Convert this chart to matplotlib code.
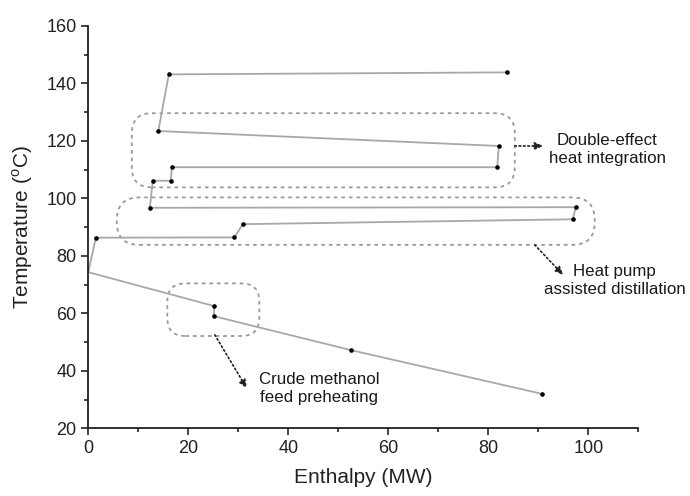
import numpy as np
import matplotlib
matplotlib.use('Agg')
import matplotlib.pyplot as plt
from matplotlib.patches import FancyBboxPatch
from matplotlib.ticker import MultipleLocator

plt.rcParams['font.family'] = ['Liberation Sans', 'DejaVu Sans']
plt.rcParams['mathtext.fontset'] = 'custom'
plt.rcParams['mathtext.rm'] = 'Liberation Sans'

# composite curve (enthalpy MW, temperature C)
enthalpy = [90.7, 52.5, 25.1, 25.2, 0.0, 1.5, 29.2, 30.9, 96.9, 97.5, 12.3,
            12.9, 16.5, 16.7, 81.8, 82.1, 14.0, 16.1, 83.8]
temperature = [32.0, 47.2, 59.0, 62.5, 74.3, 86.3, 86.4, 91.0, 92.7, 96.9, 96.7,
               106.1, 106.1, 110.8, 110.8, 118.2, 123.4, 143.1, 143.8]
has_marker = [True] * len(enthalpy)
has_marker[4] = False

# highlighted regions: (x0, x1, y0, y1, radius)
boxes = [(8.7, 85.3, 103.8, 129.6, 4.0),
         (5.7, 101.3, 83.8, 100.3, 4.5),
         (15.8, 34.2, 52.1, 70.4, 3.6)]

labels = ['Double-effect\nheat integration',
          'Heat pump\nassisted distillation',
          'Crude methanol\nfeed preheating']
arrow_from = [(85.3, 118.2), (89.3, 83.8), (25.3, 52.5)]
arrow_to = [(91.0, 118.2), (95.0, 73.3), (31.7, 33.9)]
label_pos = [(103.8, 117.0), (105.3, 71.4), (46.1, 33.8)]

fig = plt.figure(figsize=(6.9, 4.96), dpi=100)
ax = fig.add_axes([0.128, 0.1365, 0.797, 0.8115])

ax.plot(enthalpy, temperature, color='#a8a8a8', lw=1.3, zorder=2)
mx = [e for e, m in zip(enthalpy, has_marker) if m]
my = [t for t, m in zip(temperature, has_marker) if m]
ax.plot(mx, my, 'o', color='black', ms=2.3, zorder=3)

aspect = 5.0 / 2.875
for x0, x1, y0, y1, r in boxes:
    p = FancyBboxPatch((x0, y0), x1 - x0, y1 - y0,
                       boxstyle='round,pad=0,rounding_size=%g' % r,
                       mutation_aspect=aspect, fill=False,
                       edgecolor='#999999', lw=1.3, linestyle=(0, (2, 2.2)),
                       zorder=1)
    ax.add_patch(p)

for (sx, sy), (ex, ey) in zip(arrow_from, arrow_to):
    ax.annotate('', xy=(ex, ey), xytext=(sx, sy),
                arrowprops=dict(arrowstyle='-|>,head_length=0.5,head_width=0.22',
                                color='#222222', lw=1.2,
                                linestyle=(0, (1, 1.6)), shrinkA=0, shrinkB=0),
                annotation_clip=False)

for txt, (tx, ty) in zip(labels, label_pos):
    ax.text(tx, ty, txt, ha='center', va='center', fontsize=12.2,
            linespacing=1.3, color='#1a1a1a', clip_on=False)

ax.set_xlim(0, 110)
ax.set_ylim(20, 160)
ax.xaxis.set_minor_locator(MultipleLocator(10))
ax.yaxis.set_major_locator(MultipleLocator(20))
ax.yaxis.set_minor_locator(MultipleLocator(10))
ax.set_xticks([0, 20, 40, 60, 80, 100])
ax.spines['top'].set_visible(False)
ax.spines['right'].set_visible(False)
for s in ['left', 'bottom']:
    ax.spines[s].set_linewidth(1.3)
    ax.spines[s].set_color('#222222')
ax.tick_params(which='major', length=5, width=1.2, labelsize=13, direction='out', colors='#222222')
ax.tick_params(which='minor', length=3, width=1.2, direction='out', colors='#222222')

ax.set_xlabel('Enthalpy (MW)', fontsize=15, color='#222222', labelpad=8)
ax.set_ylabel(r'Temperature ($^{\mathrm{o}}$C)', fontsize=15, color='#222222', labelpad=8)

fig.savefig('out.png', dpi=100)
